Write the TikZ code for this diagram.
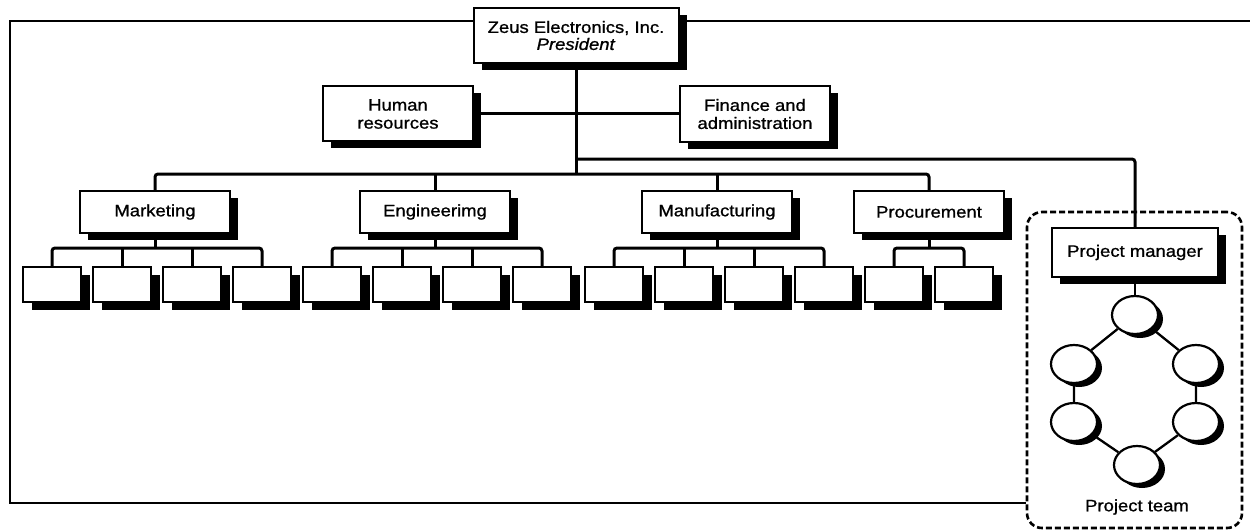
\documentclass[tikz,border=0pt]{standalone}
\usepackage{fontspec}
\setmainfont{Liberation Sans}[FakeStretch=1.12,FakeBold=1]
\usetikzlibrary{shapes.geometric,shadows,backgrounds}

\begin{document}
\begin{tikzpicture}[x=1pt,y=-1pt,
  every node/.style={font=\fontsize{16.5}{18}\selectfont},
  conn/.style={line width=3pt},
  ring/.style={line width=2.3pt},
  frameline/.style={line width=2.5pt},
  boxbase/.style={draw, line width=2pt, fill=white, inner sep=0pt, align=center},
  unit/.style={boxbase,
    drop shadow={shadow xshift=8pt, shadow yshift=-7pt, fill=black, opacity=1}},
  dept/.style={unit, minimum width=150pt, minimum height=42pt},
  staff/.style={boxbase, minimum width=58pt, minimum height=35pt,
    drop shadow={shadow xshift=9pt, shadow yshift=-8pt, fill=black, opacity=1}},
  member/.style={ellipse, draw, line width=2.2pt, fill=white,
    minimum width=46pt, minimum height=38pt, inner sep=0pt,
    drop shadow={shadow xshift=5pt, shadow yshift=-4pt, fill=black, opacity=1}},
  teamframe/.style={draw, line width=2.6pt, dash pattern=on 6pt off 3pt,
    rounded corners=15pt, minimum width=215pt, minimum height=316pt, inner sep=0pt},
]
\useasboundingbox (0,0) rectangle (1250,532);

% bus levels and frame corners
\coordinate (pmbus) at (0,159);
\coordinate (dbus) at (0,174);
\coordinate (sbus) at (0,248);
\coordinate (ftl) at (10,21);
\coordinate (fbl) at (10,503);
\coordinate (ftr) at (1250,21);

% project team enclosure
\node[teamframe] (team) at (1134.5,370) {};

% top management
\node[unit, minimum width=205pt, minimum height=55pt] (pres) at (576,35.5)
  {Zeus Electronics, Inc.\\[-1pt] \textit{President}};
\node[unit, minimum width=150pt, minimum height=55pt] (hr) at (398,114)
  {Human\\resources};
\node[unit, minimum width=150pt, minimum height=56pt] (fin) at (755,114)
  {Finance and\\administration};

% functional departments
\node[dept] (mk) at (155,212) {Marketing};
\node[dept] (en) at (435,212) {Engineerimg};
\node[dept] (mf) at (717,212) {Manufacturing};
\node[dept] (pr) at (929,212) {Procurement};

% staff units under each department
\foreach \g/\x/\n in {mk/23/4, en/303/4, mf/585/4, pr/865/2} {
  \foreach \k in {1,...,\n} {
    \node[staff] (\g\k) at ({\x+29+70*(\k-1)},284.5) {};
  }
}

% project manager and team
\node[unit, minimum width=166pt, minimum height=49pt] (pm) at (1135,252.5)
  {Project manager};
\node[member] (t1) at (1135,315) {};
\node[member] (t2) at (1196,364) {};
\node[member] (t3) at (1196,422) {};
\node[member] (t4) at (1137,465) {};
\node[member] (t5) at (1074,422) {};
\node[member] (t6) at (1074,364) {};
\node (teamlabel) at (1137,507) {Project team};

\begin{scope}[on background layer]
  % outer frame
  \draw[frameline] (pres.west |- ftl) -- (ftl) -- (fbl) -- (fbl -| team.west);
  \draw[frameline] (pres.east |- ftr) -- (ftr);
  % president trunk and staff functions
  \draw[conn] (pres.south) -- (pres.south |- dbus);
  \draw[conn] (hr.east) -- (fin.west);
  % department bus
  \draw[conn, rounded corners=3pt] (mk.north) -- (mk.north |- dbus)
    -- (pr.north |- dbus) -- (pr.north);
  \draw[conn] (en.north) -- (en.north |- dbus);
  \draw[conn] (mf.north) -- (mf.north |- dbus);
  % line to the project manager
  \draw[conn, rounded corners=3pt] (pres.south |- pmbus) -- (pm.north |- pmbus)
    -- (pm.north);
  % staff buses
  \foreach \g/\n in {mk/4, en/4, mf/4, pr/2} {
    \draw[conn] (\g.south) -- (\g.south |- sbus);
    \draw[conn, rounded corners=3pt] (\g1.north) -- (\g1.north |- sbus)
      -- (\g\n.north |- sbus) -- (\g\n.north);
  }
  \foreach \g in {mk, en, mf} {
    \draw[conn] (\g2.north) -- (\g2.north |- sbus);
    \draw[conn] (\g3.north) -- (\g3.north |- sbus);
  }
  % team ring
  \draw[ring] (pm.south) -- (t1.north);
  \draw[ring] (t1) -- (t2) -- (t3) -- (t4) -- (t5) -- (t6) -- (t1);
\end{scope}
\end{tikzpicture}
\end{document}
